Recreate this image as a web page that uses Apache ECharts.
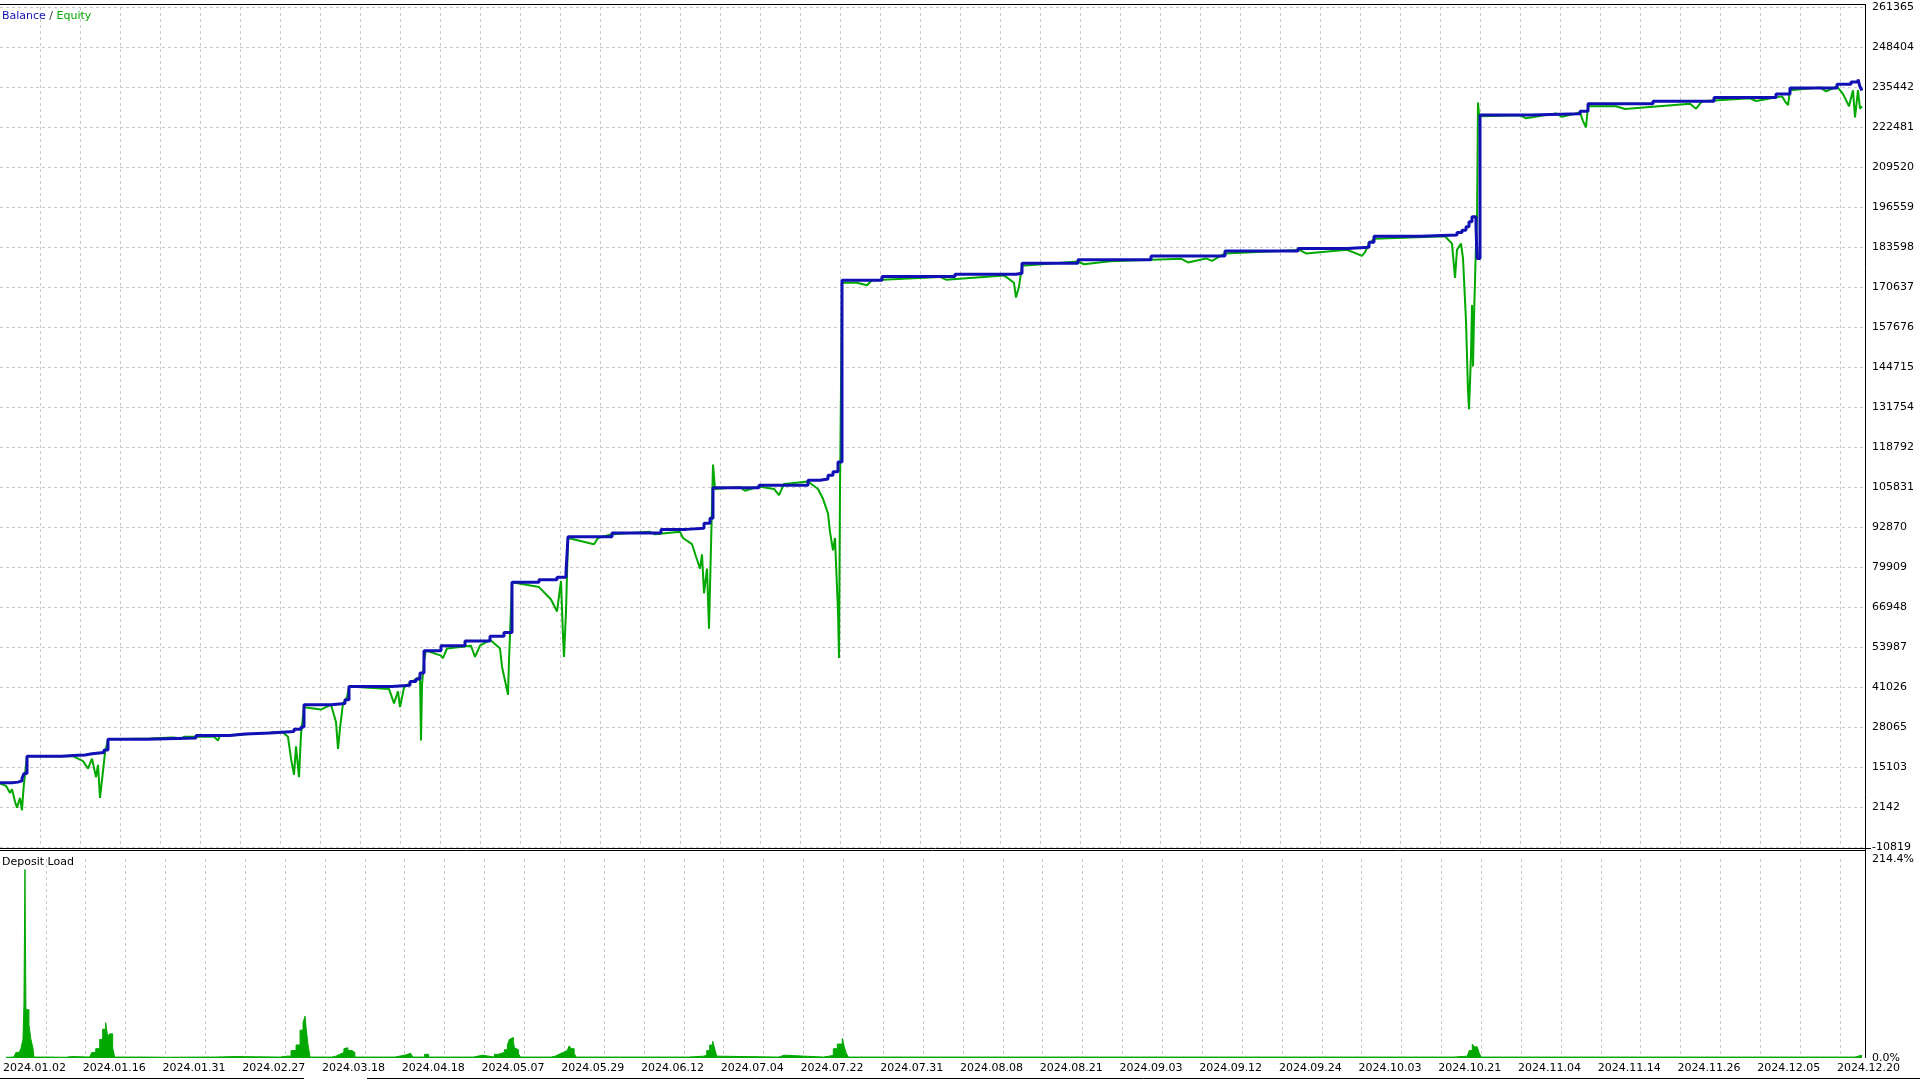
<!DOCTYPE html>
<html><head><meta charset="utf-8">
<script src="https://cdn.jsdelivr.net/npm/echarts@6/dist/echarts.min.js"></script>
<style>html,body{margin:0;padding:0;background:#fff}#c{width:1920px;height:1080px}</style>
</head><body><div id="c"></div>
<script>
// x values are positions along the test (chart units 0..1865); dates label every 80 units
const X_MAX = 1865;
const DATE_LABELS = ['2024.01.02','2024.01.16','2024.01.31','2024.02.27','2024.03.18','2024.04.18','2024.05.07','2024.05.29','2024.06.12','2024.07.04','2024.07.22','2024.07.31','2024.08.08','2024.08.21','2024.09.03','2024.09.12','2024.09.24','2024.10.03','2024.10.21','2024.11.04','2024.11.14','2024.11.26','2024.12.05','2024.12.20'];
const Y_TICKS = [-10819,2142,15103,28065,41026,53987,66948,79909,92870,105831,118792,131754,144715,157676,170637,183598,196559,209520,222481,235442,248404,261365];
const LOAD_TICKS = ['0.0%','214.4%'];
const LOAD_MAX = 214.4;

const BALANCE = [[0,10000],[12,10200],[18,10600],[22,11400],[24,13000],[27,18600],[49,18600],[62,18800],[73,19000],[85,19400],[92,19800],[104,20600],[108,24100],[147,24500],[196,25300],[230,25800],[245,26100],[270,26600],[294,27300],[301,28100],[304,35300],[331,35700],[345,36900],[349,41200],[392,41600],[410,42800],[416,43600],[420,45600],[424,52800],[441,54400],[465,55900],[490,57500],[504,58700],[512,75000],[539,75800],[557,76600],[566,78200],[568,89700],[612,90900],[661,92100],[686,92500],[704,94100],[710,95700],[713,105600],[759,106400],[808,108000],[820,108400],[828,109600],[833,110800],[838,113900],[842,172800],[882,174000],[955,174750],[1016,175100],[1022,178300],[1078,179500],[1151,180700],[1225,182300],[1298,183100],[1347,183500],[1369,185100],[1374,187100],[1420,187500],[1457,188300],[1462,189000],[1466,190200],[1469,191800],[1472,193400],[1476,190600],[1477,179900],[1480,226400],[1531,226800],[1580,227600],[1588,230000],[1653,230800],[1714,232000],[1776,233200],[1790,235100],[1837,236300],[1851,237100],[1858,237900],[1860,235500],[1862,234300]];

const EQUITY = [[0,9800],[6,9000],[10,6700],[12,7900],[15,3900],[17,1900],[20,5100],[22,1100],[23,5900],[24,9800],[26,15800],[27,18600],[73,18600],[83,17000],[88,14600],[92,17800],[96,11800],[98,15800],[100,5100],[103,13800],[105,19800],[108,24100],[150,24300],[172,24700],[176,24600],[180,24100],[184,24900],[214,24900],[218,23700],[220,25300],[255,25900],[282,26500],[288,24900],[291,17800],[294,12600],[296,21800],[299,11800],[301,25700],[304,34500],[321,33700],[331,35300],[336,29700],[338,21000],[340,27700],[343,35700],[347,37700],[349,41200],[389,40400],[394,35700],[398,39600],[400,34500],[404,40800],[410,42400],[420,44400],[421,23700],[422,41600],[424,49600],[426,52800],[441,51200],[443,50400],[447,53500],[471,54400],[475,50800],[480,54400],[490,56300],[500,53500],[502,47600],[506,41600],[508,38500],[509,49600],[512,75000],[539,73400],[545,71400],[551,69400],[557,65500],[561,75400],[563,57500],[564,50800],[566,65500],[568,89300],[594,87300],[598,89300],[612,90500],[650,91300],[655,90500],[680,91300],[683,89300],[692,87300],[696,83300],[700,79400],[702,84000],[704,71400],[707,79400],[709,59900],[710,73400],[713,113100],[715,105200],[740,105800],[745,104600],[759,106000],[774,105200],[779,103200],[784,106800],[808,107600],[818,105200],[823,102000],[828,97300],[830,91300],[833,85300],[835,89300],[838,65500],[839,50400],[840,105200],[842,172000],[857,172000],[867,171200],[872,172800],[940,173900],[946,173000],[1004,174400],[1014,172000],[1016,167200],[1019,170800],[1022,177500],[1078,178900],[1084,178000],[1110,179000],[1181,179800],[1188,178600],[1206,179900],[1212,179100],[1225,181500],[1300,182600],[1306,181500],[1347,182700],[1362,180700],[1365,181900],[1369,184700],[1374,186300],[1445,187100],[1452,184700],[1455,173600],[1457,182700],[1461,184700],[1463,179900],[1466,159600],[1468,137000],[1469,131000],[1471,148900],[1472,164800],[1473,144900],[1474,160800],[1476,184700],[1477,192600],[1478,230400],[1479,226400],[1482,226000],[1520,226300],[1526,225300],[1556,226900],[1562,225800],[1580,227200],[1583,224400],[1586,222400],[1588,229200],[1616,229200],[1625,228300],[1690,230000],[1696,228400],[1702,230800],[1750,231800],[1756,230900],[1782,232400],[1785,230800],[1788,229600],[1790,234400],[1820,235300],[1826,234000],[1837,235600],[1843,233200],[1849,229200],[1853,234400],[1855,225600],[1858,234400],[1860,228400],[1862,229200]];

const DEPOSIT_LOAD = [[0,0.8],[4,1.2],[8,2],[10,6],[13,8],[15,10],[17,20],[18,57],[19,203],[20,52],[22,52],[23,36],[25,20],[27,11],[28,1],[40,0.8],[60,1],[62,1.5],[66,1],[84,2],[86,6],[90,10],[94,20],[97,31],[100,38],[102,23],[104,26],[107,11],[109,1],[140,0.8],[160,1],[200,1],[210,1.5],[230,1],[275,2],[282,2],[286,8],[291,14],[295,30],[298,38],[300,45],[301,33],[303,14],[305,1],[327,2],[331,4],[335,6],[339,10],[340,11],[343,8],[345,8],[347,6],[350,1],[390,3],[400,5],[406,3],[408,1],[420,4],[424,1],[469,3],[478,1],[490,4],[494,6],[500,9],[503,14],[505,20],[507,22],[509,18],[510,11],[512,9],[514,5],[516,1],[547,2],[551,4],[555,6],[559,8],[563,10],[565,13],[567,10],[570,5],[572,1],[640,1],[685,2],[700,3],[703,8],[706,14],[709,18],[711,10],[713,2],[715,1],[775,3],[781,1],[820,2],[826,3],[830,10],[834,15],[839,21],[841,12],[843,5],[845,1],[900,1],[1000,1],[1100,1],[1200,1],[1300,1],[1453,2],[1466,3],[1468,8],[1471,15],[1473,12],[1476,12],[1478,5],[1480,1],[1600,1],[1700,1],[1800,1],[1855,3],[1862,3]];

const BLUE = '#1010B4', GREEN = '#00A800', GRID = '#C8C8C8';
const FONT = 'DejaVu Sans';
const chart = echarts.init(document.getElementById('c'), null, {renderer: 'canvas'});
const dashed = {show: true, showMinLine: false, lineStyle: {color: GRID, type: [3, 3], width: 1}};
const xCommon = {type: 'value', min: 0, max: X_MAX, interval: 40, axisLine: {show: false}, axisTick: {show: false}, splitLine: dashed};
chart.setOption({
  animation: false,
  backgroundColor: '#fff',
  grid: [
    {left: 0, top: 7, width: 1865, height: 840},
    {left: 0, top: 859, width: 1865, height: 199}
  ],
  xAxis: [
    Object.assign({gridIndex: 0, axisLabel: {show: false}}, xCommon),
    Object.assign({gridIndex: 1, axisLabel: {show: true, align: 'left', margin: 5, padding: [0, 0, 0, -3], color: '#000', fontFamily: FONT, fontSize: 11, showMaxLabel: false,
      formatter: v => (v % 80 === 0 ? DATE_LABELS[v / 80] : '')}}, xCommon)
  ],
  yAxis: [
    {type: 'value', gridIndex: 0, min: Y_TICKS[0], max: Y_TICKS[Y_TICKS.length - 1], show: false},
    {type: 'value', gridIndex: 0, position: 'right', min: 0, max: Y_TICKS.length - 1, interval: 1,
      axisLine: {show: false}, axisTick: {show: false},
      splitLine: {show: true, lineStyle: {color: GRID, type: [3, 3], width: 1}},
      axisLabel: {margin: 7, padding: [4, 0, 0, 0], color: '#000', fontFamily: FONT, fontSize: 11, formatter: v => String(Y_TICKS[v])}},
    {type: 'value', gridIndex: 1, position: 'right', min: 0, max: LOAD_MAX, interval: LOAD_MAX,
      axisLine: {show: false}, axisTick: {show: false}, splitLine: {show: false},
      axisLabel: {margin: 7, padding: [3, 0, 0, 0], color: '#000', fontFamily: FONT, fontSize: 11, formatter: v => (v === 0 ? LOAD_TICKS[0] : LOAD_TICKS[1])}}
  ],
  series: [
    {type: 'line', xAxisIndex: 0, yAxisIndex: 0, data: EQUITY, showSymbol: false, symbol: 'none',
      lineStyle: {color: GREEN, width: 2}, z: 2},
    {type: 'line', xAxisIndex: 0, yAxisIndex: 0, data: BALANCE, showSymbol: false, symbol: 'none', step: 'end',
      lineStyle: {color: BLUE, width: 3}, z: 3},
    {type: 'line', xAxisIndex: 1, yAxisIndex: 2, data: DEPOSIT_LOAD, showSymbol: false, symbol: 'none', step: 'end',
      lineStyle: {color: GREEN, width: 1}, areaStyle: {color: GREEN, opacity: 1}, z: 2}
  ],
  graphic: [
    {type: 'line', shape: {x1: 0, y1: 4.5, x2: 1866, y2: 4.5}, style: {stroke: '#000', lineWidth: 1}, z: 10},
    {type: 'line', shape: {x1: 1865.5, y1: 4, x2: 1865.5, y2: 1058}, style: {stroke: '#000', lineWidth: 1}, z: 10},
    {type: 'line', shape: {x1: 0, y1: 848.5, x2: 1871, y2: 848.5}, style: {stroke: '#000', lineWidth: 1}, z: 10},
    {type: 'line', shape: {x1: 0, y1: 850.5, x2: 1865, y2: 850.5}, style: {stroke: '#000', lineWidth: 1}, z: 10},
    {type: 'line', shape: {x1: 0, y1: 1078.5, x2: 304, y2: 1078.5}, style: {stroke: '#000', lineWidth: 1}, z: 10},
    {type: 'line', shape: {x1: 367, y1: 1078.5, x2: 1920, y2: 1078.5}, style: {stroke: '#000', lineWidth: 1}, z: 10},
    {type: 'text', x: 2, y: 11, z: 11, style: {text: '{b|Balance} / {e|Equity}', font: '11px "DejaVu Sans"', fill: '#333',
      rich: {b: {fill: BLUE, font: '11px "DejaVu Sans"'}, e: {fill: GREEN, font: '11px "DejaVu Sans"'}}}},
    {type: 'text', x: 2, y: 857, z: 11, style: {text: 'Deposit Load', font: '11px "DejaVu Sans"', fill: '#000'}}
  ]
});
</script></body></html>
